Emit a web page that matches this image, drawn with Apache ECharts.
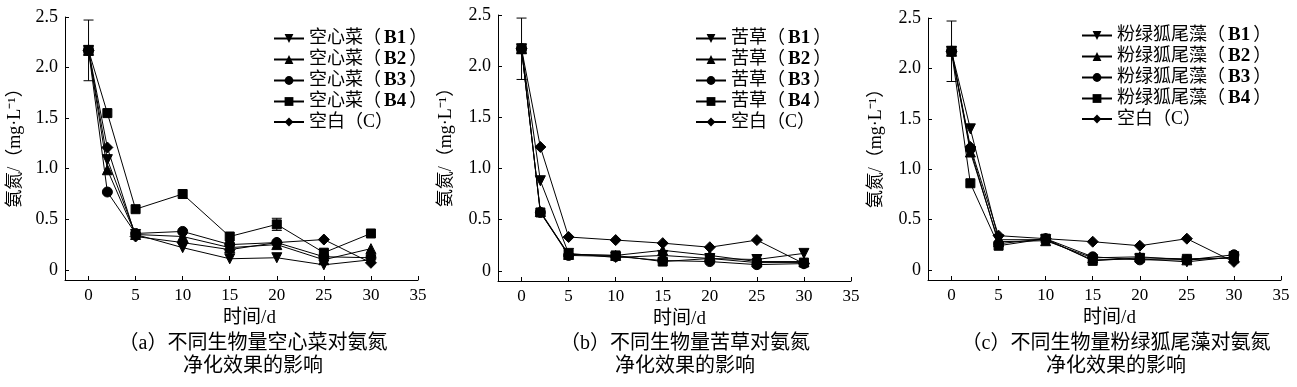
<!DOCTYPE html>
<html><head><meta charset="utf-8">
<script src="https://cdn.jsdelivr.net/npm/echarts@6/dist/echarts.min.js"></script>
<style>html,body{margin:0;padding:0;background:#fff}#c{width:1297px;height:387px}</style>
</head><body><div id="c"></div>
<script>
// ---- data ----
const days = [0, 2, 5, 10, 15, 20, 25, 30];
const xTicks = [0, 5, 10, 15, 20, 25, 30, 35];
const yTicks = [0, 0.5, 1.0, 1.5, 2.0, 2.5];
const yTickLabels = ['0', '0.5', '1.0', '1.5', '2.0', '2.5'];
const xAxisTitle = '时间/d';
const yAxisTitle = '氨氮/（mg·L⁻¹）';

const namesA = ['空心菜（B1）', '空心菜（B2）', '空心菜（B3）', '空心菜（B4）', '空白（C）'];
const a_B1 = [2.17, 1.09, 0.35, 0.22, 0.11, 0.12, 0.05, 0.10];
const a_B2 = [2.17, 0.99, 0.35, 0.33, 0.22, 0.25, 0.10, 0.21];
const a_B3 = [2.17, 0.77, 0.36, 0.38, 0.25, 0.27, 0.13, 0.12];
const a_B4 = [2.17, 1.55, 0.60, 0.75, 0.33, 0.45, 0.17, 0.36];
const a_C  = [2.17, 1.21, 0.33, 0.27, 0.20, 0.27, 0.30, 0.07];
const errA = [[0, 2.17, 0.30], [20, 0.45, 0.06]];
const captionA = ['（a）不同生物量空心菜对氨氮', '净化效果的影响'];

const namesB = ['苦草（B1）', '苦草（B2）', '苦草（B3）', '苦草（B4）', '空白（C）'];
const b_B1 = [2.17, 0.88, 0.17, 0.13, 0.15, 0.12, 0.11, 0.17];
const b_B2 = [2.17, 0.58, 0.16, 0.15, 0.20, 0.15, 0.09, 0.09];
const b_B3 = [2.17, 0.57, 0.15, 0.14, 0.10, 0.09, 0.06, 0.07];
const b_B4 = [2.17, 0.57, 0.16, 0.15, 0.09, 0.12, 0.08, 0.08];
const b_C  = [2.17, 1.21, 0.33, 0.30, 0.27, 0.23, 0.30, 0.07];
const errB = [[0, 2.17, 0.30]];
const captionB = ['（b）不同生物量苦草对氨氮', '净化效果的影响'];

const namesC = ['粉绿狐尾藻（B1）', '粉绿狐尾藻（B2）', '粉绿狐尾藻（B3）', '粉绿狐尾藻（B4）', '空白（C）'];
const c_B1 = [2.17, 1.40, 0.30, 0.30, 0.10, 0.11, 0.08, 0.13];
const c_B2 = [2.17, 1.17, 0.28, 0.29, 0.12, 0.13, 0.10, 0.12];
const c_B3 = [2.17, 1.20, 0.26, 0.31, 0.13, 0.10, 0.10, 0.15];
const c_B4 = [2.17, 0.86, 0.24, 0.31, 0.09, 0.12, 0.11, 0.12];
const c_C  = [2.17, 1.22, 0.34, 0.31, 0.28, 0.24, 0.31, 0.08];
const errC = [[0, 2.17, 0.30]];
const captionC = ['（c）不同生物量粉绿狐尾藻对氨氮', '净化效果的影响'];

// ---- styling / layout ----
const FONT = '"Liberation Serif", "Noto Sans CJK SC", serif';
const symbols = ['triangle', 'triangle', 'circle', 'rect', 'diamond'];
const rotates = [180, 0, 0, 0, 0];
const sizes = [10, 10, 10, 9, 11];

const panels = [
  { names: namesA, data: [a_B1, a_B2, a_B3, a_B4, a_C], err: errA, caption: captionA,
    grid: { left: 65, top: 17, width: 353, height: 263 }, legend: { left: 268, top: 24 },
    nameGapY: 41, namePadX: 16, capX: 248 },
  { names: namesB, data: [b_B1, b_B2, b_B3, b_B4, b_C], err: errB, caption: captionB,
    grid: { left: 498, top: 15, width: 353, height: 266 }, legend: { left: 690, top: 24 },
    nameGapY: 43, namePadX: 10, capX: 680 },
  { names: namesC, data: [c_B1, c_B2, c_B3, c_B4, c_C], err: errC, caption: captionC,
    grid: { left: 928, top: 18, width: 353, height: 262 }, legend: { left: 1076, top: 21 },
    nameGapY: 43, namePadX: 10, capX: 1111 }
];

function legendFmt(name) {
  const m = name.match(/^(.*（)(B\d)(）)$/);
  if (m) return '{c|' + m[1] + '}{b|' + m[2] + '}{c|' + m[3] + '}';
  return '{c|' + name + '}';
}

const option = {
  backgroundColor: '#fff',
  animation: false,
  grid: [], xAxis: [], yAxis: [], series: [], legend: [], title: []
};

panels.forEach((p, i) => {
  option.grid.push(Object.assign({ containLabel: false }, p.grid));
  option.xAxis.push({
    type: 'value', gridIndex: i, min: -2.5, max: 35,
    name: xAxisTitle, nameLocation: 'middle', nameGap: 29,
    nameTextStyle: { fontFamily: FONT, fontSize: 19, color: '#000', padding: [0, 0, 0, p.namePadX] },
    axisLine: { onZero: false, lineStyle: { color: '#000', width: 1 } },
    axisTick: { inside: true, length: 4, customValues: xTicks, lineStyle: { color: '#000' } },
    axisLabel: { customValues: xTicks, fontFamily: FONT, fontSize: 17, color: '#000', margin: 7 },
    splitLine: { show: false }
  });
  option.yAxis.push({
    type: 'value', gridIndex: i, min: -0.1, max: 2.5,
    name: yAxisTitle, nameLocation: 'middle', nameGap: p.nameGapY, nameRotate: 90,
    nameTextStyle: { fontFamily: FONT, fontSize: 18, color: '#000', padding: [0, 0, 0, 10] },
    axisLine: { onZero: false, lineStyle: { color: '#000', width: 1 } },
    axisTick: { inside: true, length: 4, customValues: yTicks, lineStyle: { color: '#000' } },
    axisLabel: {
      customValues: yTicks, fontFamily: FONT, fontSize: 18, color: '#000', margin: 7,
      formatter: v => { const k = yTicks.findIndex(t => Math.abs(t - v) < 1e-9); return k >= 0 ? yTickLabels[k] : ''; }
    },
    splitLine: { show: false }
  });
  p.names.forEach((nm, j) => {
    option.series.push({
      type: 'line', name: nm, xAxisIndex: i, yAxisIndex: i,
      data: days.map((d, k) => [d, p.data[j][k]]),
      symbol: symbols[j], symbolRotate: rotates[j], symbolSize: sizes[j],
      lineStyle: { color: '#000', width: 1 },
      itemStyle: { color: '#000', borderColor: '#000' },
      z: 3
    });
  });
  option.series.push({
    type: 'custom', xAxisIndex: i, yAxisIndex: i, z: 2, silent: true,
    data: p.err,
    renderItem: (params, api) => {
      const x = api.value(0), m = api.value(1), e = api.value(2);
      const top = api.coord([x, m + e]), bot = api.coord([x, m - e]);
      const w = 5;
      const st = { stroke: '#000', lineWidth: 1 };
      return { type: 'group', children: [
        { type: 'line', shape: { x1: top[0], y1: top[1], x2: bot[0], y2: bot[1] }, style: st },
        { type: 'line', shape: { x1: top[0] - w, y1: top[1], x2: top[0] + w, y2: top[1] }, style: st },
        { type: 'line', shape: { x1: bot[0] - w, y1: bot[1], x2: bot[0] + w, y2: bot[1] }, style: st }
      ]};
    }
  });
  option.legend.push({
    data: p.names, orient: 'vertical', left: p.legend.left, top: p.legend.top,
    itemWidth: 30, itemHeight: 11, itemGap: 2, selectedMode: false,
    formatter: legendFmt,
    textStyle: {
      fontFamily: FONT, fontSize: 18, color: '#000', lineHeight: 18,
      rich: {
        c: { fontFamily: FONT, fontSize: 18, color: '#000', lineHeight: 18 },
        b: { fontFamily: FONT, fontSize: 19, fontWeight: 'bold', color: '#000', lineHeight: 18, padding: [0, 3, 0, 3] }
      }
    }
  });
  option.title.push({
    text: p.caption[0] + '\n' + p.caption[1], left: p.capX, top: 327, textAlign: 'center',
    textStyle: { fontFamily: FONT, fontSize: 20, fontWeight: 'normal', color: '#000', lineHeight: 23 }
  });
});

const chart = echarts.init(document.getElementById('c'), null, { renderer: 'canvas' });
chart.setOption(option);
</script>
</body></html>
